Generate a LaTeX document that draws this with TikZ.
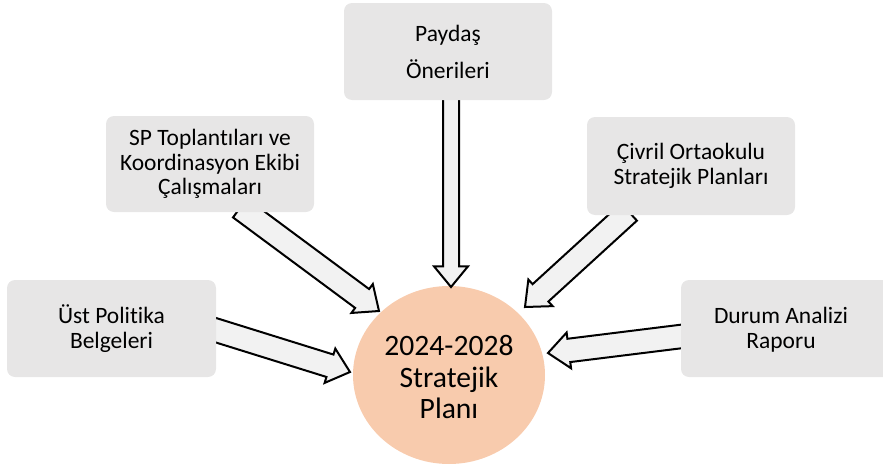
\documentclass[tikz,border=0pt]{standalone}
\usepackage{fontspec}
\setmainfont{Carlito}[Ligatures=NoCommon]
\usetikzlibrary{calc,shapes.geometric}
\definecolor{boxgray}{HTML}{E7E6E6}
\definecolor{arrgray}{HTML}{F2F2F2}
\definecolor{peach}{HTML}{F8CBAD}
\pgfdeclarelayer{back}
\pgfdeclarelayer{mid}
\pgfsetlayers{back,mid,main}
\tikzset{
  srcbox/.style={fill=boxgray, rounded corners=6pt, inner sep=0pt, align=center,
    font=\fontsize{17.6}{18.6}\selectfont},
  barrow/.style={draw=black, line width=1.5pt, fill=arrgray, line join=miter},
}
% start, tip, shaft half width, head half width, head length
\newcommand{\blockarr}[5]{%
  \coordinate (hb) at ($(#2)!#5!(#1)$);
  \draw[barrow] ($(#1)!#3!90:(#2)$) -- ($(hb)!#3!90:(#2)$) -- ($(hb)!#4!90:(#2)$)
    -- (#2) -- ($(hb)!#4!-90:(#2)$) -- ($(hb)!#3!-90:(#2)$) -- ($(#1)!#3!-90:(#2)$) -- cycle;
}
\begin{document}
\begin{tikzpicture}[x=0.75pt, y=-0.75pt]
\useasboundingbox (0,0) rectangle (883,468);
\clip (0,0) rectangle (883,468);
% boxes
\node[srcbox, minimum width=208*0.75pt, minimum height=97*0.75pt,
  font=\fontsize{17.6}{27.7}\selectfont] (pay) at (448,51.5) {Paydaş\\Önerileri};
\node[srcbox, minimum width=208*0.75pt, minimum height=96*0.75pt] (sp) at (210,164)
  {SP Toplantıları ve\\Koordinasyon Ekibi\\Çalışmaları};
\node[srcbox, minimum width=208*0.75pt, minimum height=98*0.75pt] (civ) at (691,166)
  {Çivril Ortaokulu\\Stratejik Planları};
\node[srcbox, minimum width=209*0.75pt, minimum height=97*0.75pt] (ust) at (111.5,328.5)
  {Üst Politika\\Belgeleri};
\node[srcbox, minimum width=214*0.75pt, minimum height=97*0.75pt, text width=200*0.75pt] (durbox) at (788,328.5) {};
\node[align=center, font=\fontsize{17.6}{18.6}\selectfont] (dur) at (781,330) {Durum Analizi\\Raporu};
% central ellipse
\begin{pgfonlayer}{back}
\node[fill=peach, ellipse, minimum width=192*0.75pt, minimum height=178*0.75pt, inner sep=0pt] (plan) at (449,375) {};
\end{pgfonlayer}
\node[align=center, font=\fontsize{22.2}{23.6}\selectfont] (plantext) at (449,377)
  {2024-2028\\Stratejik\\Planı};
% arrow endpoints
\coordinate (s1) at (451,95);   \coordinate (t1) at (451,287);
\coordinate (s2) at (240,208);  \coordinate (t2) at (379,311);
\coordinate (s3) at (629,212);  \coordinate (t3) at (525,307);
\coordinate (s4) at (685,336);  \coordinate (t4) at (548,353);
\coordinate (s5) at (212,329);  \coordinate (t5) at (350,372);
\begin{pgfonlayer}{mid}
\blockarr{s1}{t1}{6pt}{12.75pt}{15.5pt}
\blockarr{s2}{t2}{8.8pt}{13.5pt}{15.75pt}
\blockarr{s3}{t3}{8.8pt}{13.5pt}{15.75pt}
\blockarr{s4}{t4}{8.8pt}{13.5pt}{15.75pt}
\blockarr{s5}{t5}{8.8pt}{13.5pt}{15.75pt}
\end{pgfonlayer}
\end{tikzpicture}
\end{document}
